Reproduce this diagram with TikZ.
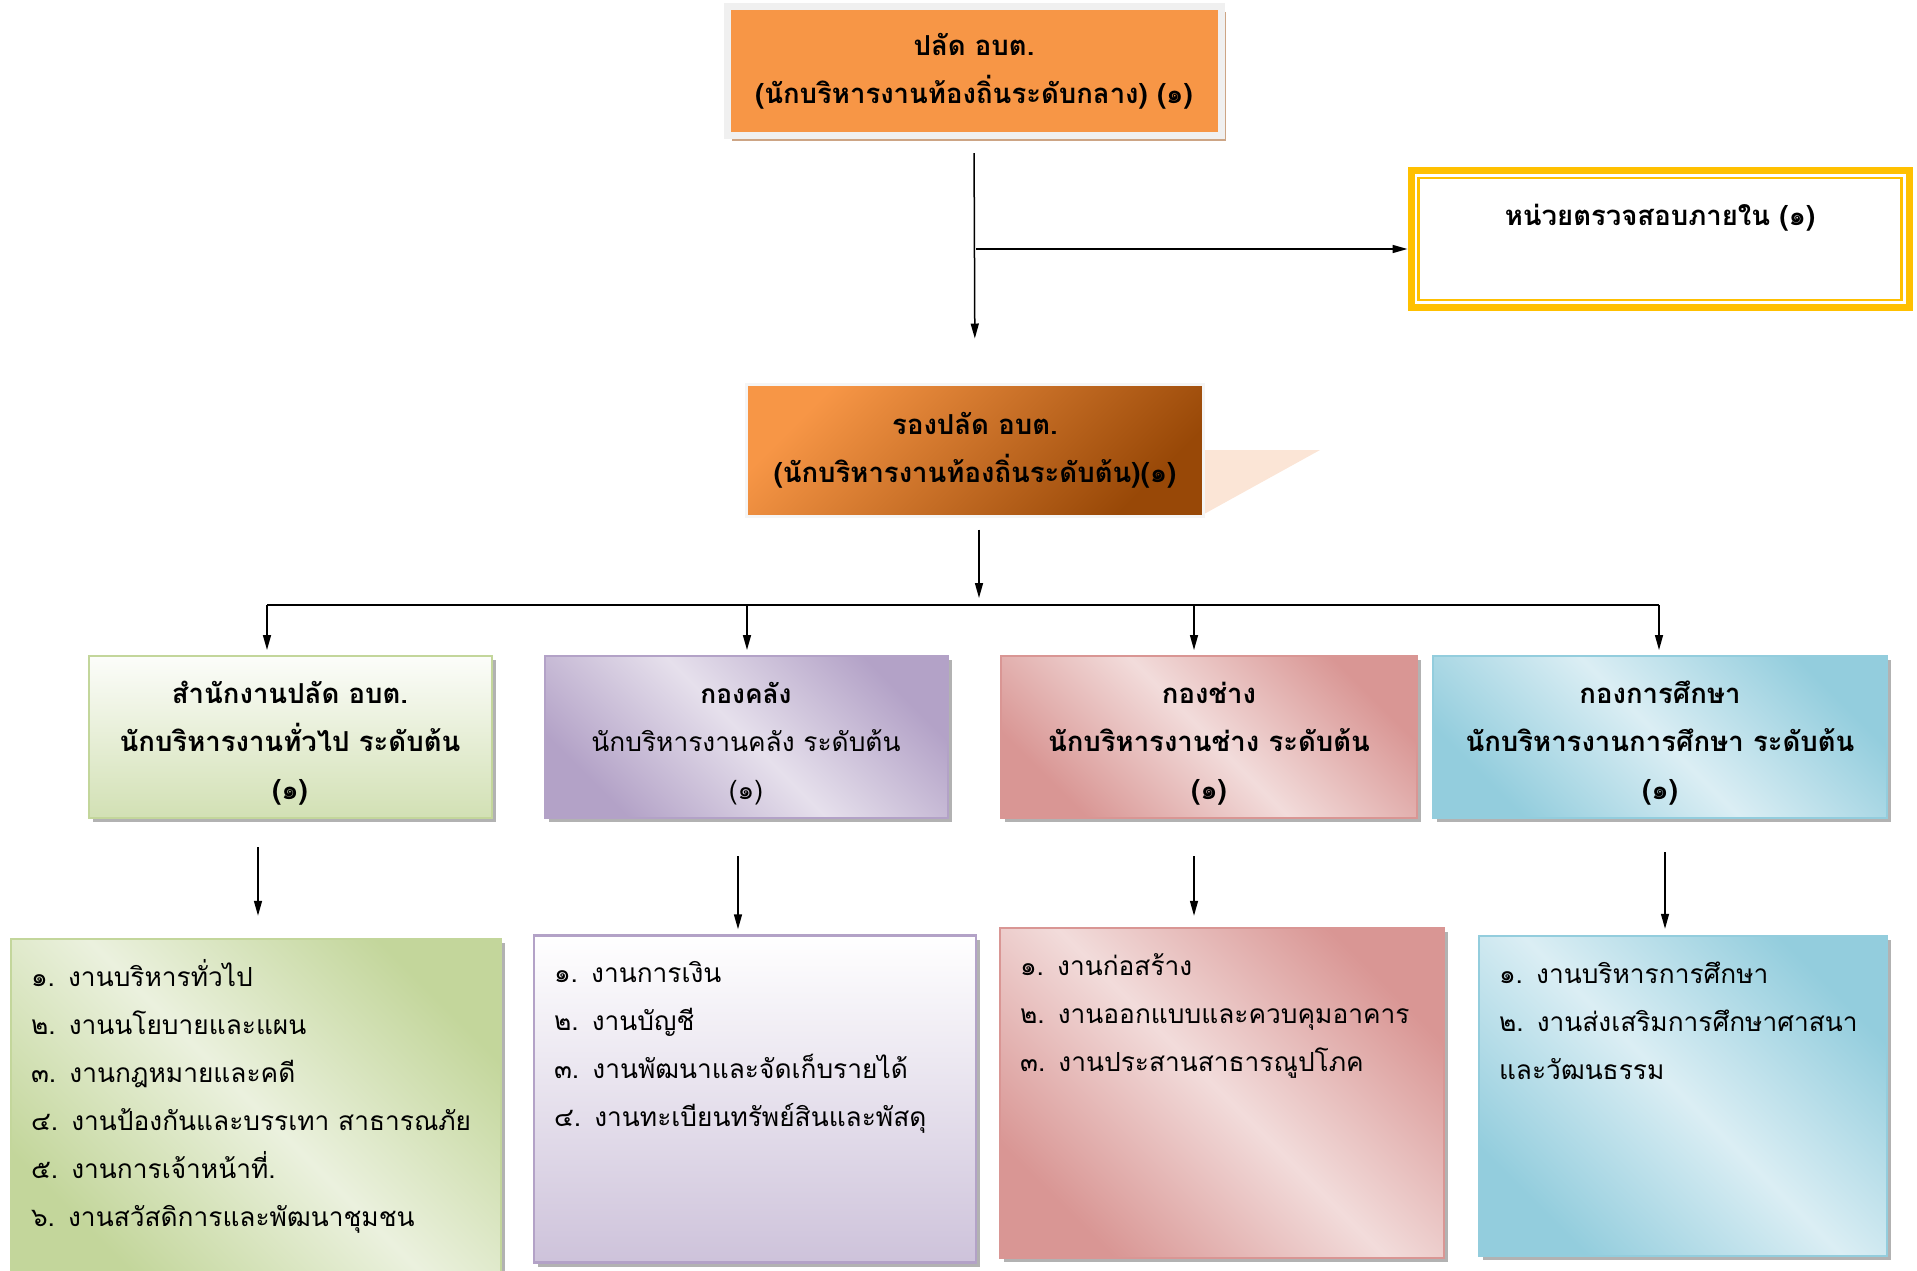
\documentclass[tikz,border=0pt]{standalone}
\usepackage{fontspec}
\setmainfont[Script=Thai]{Loma}
\usepackage{tikz}
\usetikzlibrary{arrows.meta,shadows}

\definecolor{chiefor}{HTML}{F79646}
\definecolor{deputybr}{HTML}{984807}
\definecolor{peach}{HTML}{FBE5D6}
\definecolor{shadowtan}{HTML}{CDA585}
\definecolor{auditylw}{HTML}{FFC000}
\definecolor{grnD}{HTML}{C3D69B}
\definecolor{grnL}{HTML}{EBF1DE}
\definecolor{purD}{HTML}{B3A2C7}
\definecolor{purL}{HTML}{E6E0EC}
\definecolor{redD}{HTML}{D99694}
\definecolor{redL}{HTML}{F2DCDB}
\definecolor{bluD}{HTML}{93CDDD}
\definecolor{bluL}{HTML}{DBEEF4}

\tikzset{
  txt/.style={font=\fontsize{26.3}{48}\selectfont},
  btxt/.style={font=\fontsize{27.5}{48}\selectfont\bfseries},
  arr/.style={line width=1.5pt,-{Triangle[length=15pt,width=8pt]}},
  busline/.style={line width=2.5pt},
  boxshadow/.style={drop shadow={shadow xshift=4pt,shadow yshift=-4pt,fill=black,opacity=.3}},
  diag/.style 2 args={left color=#1,right color=#1,middle color=#2,shading angle=-45},
  headbox/.style={draw=#1,line width=2pt,boxshadow,align=center,inner sep=0pt,text height=143pt,text depth=19pt},
  listbox/.style={draw=#1,line width=2.5pt,boxshadow,align=left,inner xsep=20pt,inner ysep=0pt,text height=47pt,txt}
}

\begin{document}
\begin{tikzpicture}[x=1pt,y=-1pt]
\useasboundingbox (0,0) rectangle (1917,1270);

% top levels
\node[draw=gray!12,line width=7pt,fill=chiefor,minimum width=494,minimum height=129,btxt,align=center,
  drop shadow={shadow xshift=5pt,shadow yshift=-5pt,fill=shadowtan,opacity=1}] (T) at (974,71)
  {ปลัด อบต.\\(นักบริหารงานท้องถิ่นระดับกลาง) (๑)};
\node[draw=auditylw,line width=7pt,minimum width=498,inner sep=0pt,text height=55pt,text depth=82pt,btxt] (A) at (1660,239)
  {หน่วยตรวจสอบภายใน (๑)};
\draw[auditylw,line width=2.5pt] ([shift={(11,11)}]A.north west) rectangle ([shift={(-11,-11)}]A.south east);
\node[draw=gray!8,line width=3pt,top color=chiefor,bottom color=deputybr,shading angle=45,
  minimum width=457,minimum height=132,btxt,align=center] (R) at (975,450)
  {รองปลัด อบต.\\(นักบริหารงานท้องถิ่นระดับต้น)(๑)};
\fill[peach] (R.east) -- ++(115,0) -- ([yshift=4pt]R.south east) -- cycle;

% divisions
\node[headbox=grnD,top color=white!85!grnL,bottom color=grnD!75!white,minimum width=403,btxt] (H1) at (290,737)
  {สำนักงานปลัด อบต.\\นักบริหารงานทั่วไป ระดับต้น\\(๑)};
\node[headbox=purD,diag={purD}{purL},minimum width=403,txt] (H2) at (746,737)
  {\textbf{กองคลัง}\\นักบริหารงานคลัง ระดับต้น\\(๑)};
\node[headbox=redD,diag={redD}{redL},minimum width=416,btxt] (H3) at (1209,737)
  {กองช่าง\\นักบริหารงานช่าง ระดับต้น\\(๑)};
\node[headbox=bluD,diag={bluD}{bluL},minimum width=454,btxt] (H4) at (1660,737)
  {กองการศึกษา\\นักบริหารงานการศึกษา ระดับต้น\\(๑)};

% work lists
\node[listbox=grnD,diag={grnD}{grnL},text width=450,text depth=289pt] (L1) at (256,1107)
  {๑. งานบริหารทั่วไป\\๒. งานนโยบายและแผน\\๓. งานกฎหมายและคดี\\๔. งานป้องกันและบรรเทา สาธารณภัย\\๕. งานการเจ้าหน้าที่.\\๖. งานสวัสดิการและพัฒนาชุมชน};
\node[listbox=purD,top color=white,bottom color=purD!65!white,text width=402,text depth=280pt] (L2) at (755,1099)
  {๑. งานการเงิน\\๒. งานบัญชี\\๓. งานพัฒนาและจัดเก็บรายได้\\๔. งานทะเบียนทรัพย์สินและพัสดุ};
\node[listbox=redD,diag={redD}{redL},text width=404,text depth=283pt] (L3) at (1222,1093)
  {๑. งานก่อสร้าง\\๒. งานออกแบบและควบคุมอาคาร\\๓. งานประสานสาธารณูปโภค};
\node[listbox=bluD,diag={bluD}{bluL},text width=368,text depth=273pt] (L4) at (1683,1096)
  {๑. งานบริหารการศึกษา\\๒. งานส่งเสริมการศึกษาศาสนา\\และวัฒนธรรม};

% connectors
\coordinate (split) at (976,249);
\coordinate (bus) at (979,605);
\draw[arr,shorten <=14pt,shorten >=44pt] (T.south) -- (R.north);
\draw[arr] (split) -- (split -| A.west);
\draw[arr,shorten <=12pt,shorten >=7pt] (R.south -| bus) -- (bus);
\draw[busline] ([xshift=-23pt]H1.north |- bus) -- ([xshift=-1pt]H4.north |- bus);
\foreach \i/\dx in {1/-23,2/1,3/-15,4/-1}
  \draw[arr,shorten >=5pt] ([xshift=\dx pt]H\i.north |- bus) -- ([xshift=\dx pt]H\i.north);
\foreach \i/\dx/\s/\e in {1/-32/28/22,2/-8/37/5,3/-15/37/11,4/5/33/6}
  \draw[arr,shorten <=\s pt,shorten >=\e pt] ([xshift=\dx pt]H\i.south) -- ([xshift=\dx pt]H\i.south |- L\i.north);
\end{tikzpicture}
\end{document}
